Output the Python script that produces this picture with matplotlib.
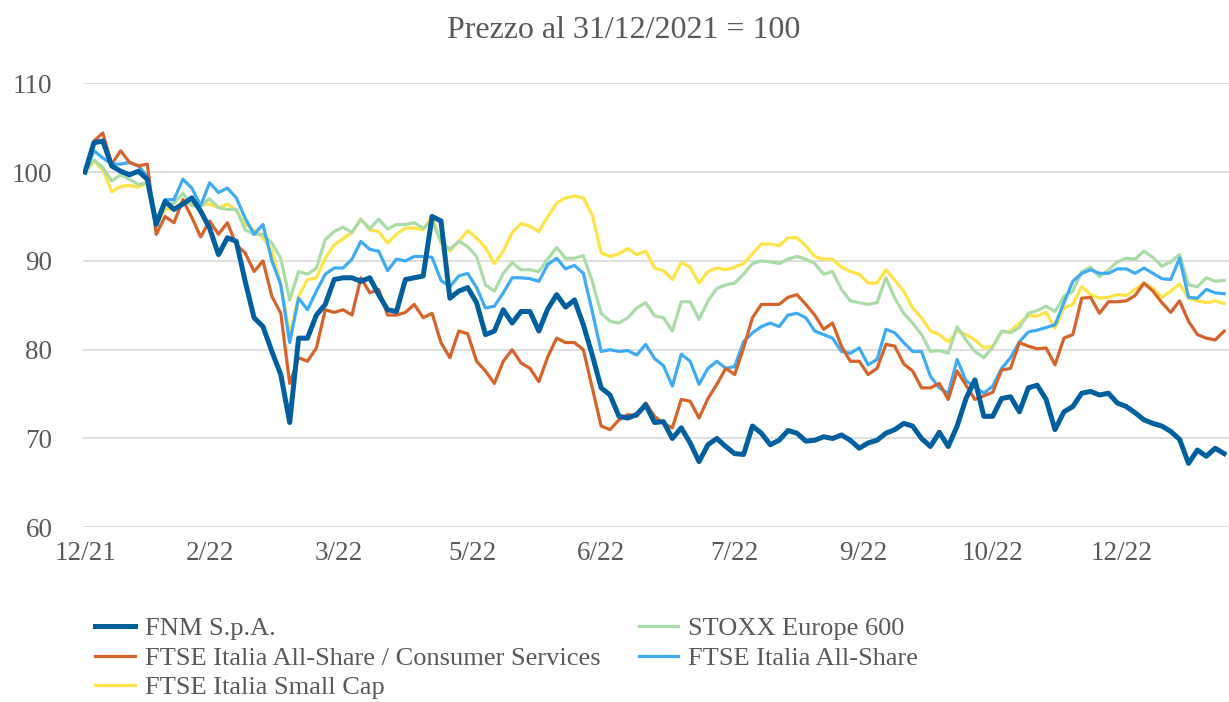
import matplotlib.pyplot as plt
import numpy as np

plt.rcParams['font.family'] = ['Liberation Serif', 'DejaVu Serif']

# index values (31/12/2021 = 100), read every 2 trading days
fnm = [100.0, 103.3, 103.5, 100.7, 100.1, 99.7, 100.1, 99.2, 94.1, 96.7, 95.8, 96.4, 97.1, 95.6, 93.7, 90.7,
       92.6, 92.2, 87.7, 83.6, 82.6, 79.8,
       77.2, 71.8, 81.3, 81.3, 83.9, 85.1, 87.9, 88.1, 88.1, 87.7, 88.1, 86.2, 84.5, 84.3, 87.9, 88.1,
       88.3, 95.0, 94.5, 85.8, 86.6, 87.0,
       85.3, 81.7, 82.1, 84.5, 83.0, 84.3, 84.3, 82.1, 84.6, 86.2, 84.8, 85.6, 82.8, 79.4, 75.7, 74.9,
       72.5, 72.3, 72.7, 73.8, 71.8,
       71.9, 70.0, 71.2, 69.5, 67.4, 69.3, 70.0, 69.1, 68.3, 68.2, 71.4, 70.6, 69.3, 69.8, 70.9, 70.6,
       69.7, 69.8, 70.2, 70.0, 70.4,
       69.8, 68.9, 69.5, 69.8, 70.6, 71.0, 71.7, 71.4, 70.0, 69.1, 70.7, 69.1, 71.4, 74.5, 76.6, 72.5,
       72.5, 74.5, 74.7, 73.0, 75.7, 76.0,
       74.4, 71.0, 73.0, 73.6, 75.1, 75.3, 74.9, 75.1, 74.0, 73.6, 72.9, 72.1, 71.7, 71.4, 70.8, 69.9,
       67.2, 68.7, 68.0, 68.9, 68.3]
consumer = [100.0, 103.5, 104.4, 100.9, 102.4, 101.1, 100.7, 100.9, 93.0, 95.0, 94.3, 96.9, 94.9, 92.7, 94.5,
            93.0, 94.3, 91.8, 90.9, 88.8, 90.0, 86.0,
            84.1, 76.2, 79.1, 78.7, 80.2, 84.5, 84.2, 84.5, 83.9, 88.1, 86.4, 86.8, 83.9, 83.9, 84.2, 85.1,
            83.6, 84.1, 80.8, 79.1, 82.1, 81.8,
            78.7, 77.6, 76.2, 78.7, 80.0, 78.5, 77.9, 76.4, 79.2, 81.3, 80.8, 80.8, 80.0, 75.7, 71.4, 71.0,
            72.1, 72.7, 72.5, 74.0, 72.5,
            71.7, 71.2, 74.4, 74.2, 72.3, 74.5, 76.1, 77.9, 77.2, 80.2, 83.6, 85.1, 85.1, 85.1, 85.9, 86.2,
            85.1, 83.9, 82.3, 83.0, 80.4,
            78.7, 78.7, 77.2, 77.9, 80.6, 80.4, 78.4, 77.6, 75.7, 75.7, 76.2, 74.4, 77.6, 76.0, 74.4, 74.8,
            75.2, 77.7, 77.9, 80.8, 80.4, 80.1,
            80.2, 78.3, 81.3, 81.7, 85.8, 85.9, 84.1, 85.4, 85.4, 85.5, 86.1, 87.5, 86.6, 85.3, 84.2, 85.5,
            83.2, 81.7, 81.3, 81.1, 82.1]
smallcap = [100.0, 101.2, 100.3, 97.8, 98.4, 98.5, 98.3, 98.8, 94.1, 95.8, 95.9, 96.7, 96.4, 96.3, 96.4,
            96.0, 96.4, 95.7, 94.1, 93.5, 92.6, 91.2,
            87.3, 81.7, 86.0, 87.9, 88.1, 90.3, 91.8, 92.5, 93.2, 94.7, 93.5, 93.3, 92.0, 93.0, 93.7, 93.7,
            93.5, 95.0, 92.0, 91.1, 92.2, 93.4,
            92.6, 91.5, 89.7, 91.1, 93.2, 94.2, 93.9, 93.3, 95.0, 96.5, 97.1, 97.3, 97.1, 95.2, 90.9, 90.5,
            90.8, 91.4, 90.7, 91.1, 89.2,
            88.9, 87.9, 89.8, 89.3, 87.5, 88.8, 89.2, 89.0, 89.3, 89.7, 90.8, 91.9, 91.9, 91.7, 92.6, 92.6,
            91.7, 90.5, 90.2, 90.2, 89.3,
            88.8, 88.5, 87.5, 87.5, 89.0, 87.8, 86.6, 84.7, 83.6, 82.1, 81.7, 80.9, 82.1, 81.7, 81.1, 80.2,
            80.4, 82.0, 82.1, 83.0, 83.8, 83.8,
            84.2, 82.4, 84.7, 85.1, 87.1, 86.2, 85.8, 85.9, 86.2, 86.1, 86.8, 87.5, 86.9, 85.9, 86.6, 87.4,
            85.8, 85.5, 85.3, 85.5, 85.2]
stoxx = [100.0, 101.4, 100.5, 99.0, 99.7, 99.2, 98.6, 98.8, 94.1, 96.4, 96.5, 97.6, 96.2, 96.2, 97.0, 96.0,
         95.8, 95.8, 93.5, 93.0, 93.0, 92.0,
         90.3, 85.6, 88.8, 88.5, 89.2, 92.4, 93.3, 93.8, 93.2, 94.7, 93.6, 94.7, 93.6, 94.1, 94.1, 94.3,
         93.7, 94.5, 92.2, 91.3, 92.2, 91.6,
         90.5, 87.3, 86.6, 88.6, 89.8, 89.0, 89.0, 88.8, 90.2, 91.5, 90.3, 90.3, 90.6, 87.7, 84.1, 83.2,
         83.0, 83.6, 84.7, 85.3, 83.8,
         83.6, 82.1, 85.4, 85.4, 83.4, 85.5, 86.9, 87.3, 87.5, 88.5, 89.7, 90.0, 89.9, 89.7, 90.2, 90.5,
         90.2, 89.7, 88.5, 88.8, 86.8,
         85.5, 85.3, 85.1, 85.3, 88.1, 85.8, 84.1, 83.0, 81.7, 79.8, 79.9, 79.6, 82.6, 81.1, 79.8, 79.1,
         80.3, 82.1, 81.9, 82.5, 84.1, 84.4,
         84.9, 84.3, 86.0, 86.6, 88.8, 89.3, 88.2, 89.0, 89.9, 90.3, 90.2, 91.1, 90.4, 89.4, 89.9, 90.7,
         87.3, 87.1, 88.1, 87.7, 87.8]
allshare = [100.0, 102.4, 101.6, 100.9, 100.9, 101.1, 100.7, 99.5, 94.5, 96.9, 96.9, 99.2, 98.2, 96.2, 98.8,
            97.7, 98.2, 97.1, 94.8, 93.0, 94.1, 90.0,
            87.3, 80.8, 85.8, 84.5, 86.6, 88.5, 89.2, 89.2, 90.2, 92.2, 91.3, 91.1, 88.9, 90.2, 90.0, 90.5,
            90.5, 90.4, 87.8, 87.1, 88.3, 88.6,
            87.0, 84.7, 84.9, 86.4, 88.1, 88.1, 88.0, 87.7, 89.6, 90.3, 89.1, 89.5, 88.6, 84.3, 79.8, 80.0,
            79.8, 79.9, 79.4, 80.6, 79.0,
            78.2, 75.9, 79.5, 78.7, 76.1, 77.9, 78.7, 77.9, 78.1, 80.9, 81.9, 82.6, 83.0, 82.6, 83.9, 84.1,
            83.6, 82.1, 81.7, 81.3, 79.8,
            79.6, 80.2, 78.3, 78.9, 82.3, 81.9, 80.8, 79.8, 79.8, 77.0, 75.7, 75.1, 78.9, 76.5, 75.8, 75.1,
            75.9, 77.9, 79.1, 80.9, 82.0, 82.2,
            82.5, 82.8, 85.3, 87.7, 88.6, 89.0, 88.6, 88.6, 89.1, 89.1, 88.6, 89.2, 88.6, 88.0, 87.9, 90.3,
            85.9, 85.8, 86.8, 86.4, 86.3]

tick_days = [0, 28, 57, 87, 116, 146, 175, 204, 233]
tick_labels = ['12/21', '2/22', '3/22', '5/22', '6/22', '7/22', '9/22', '10/22', '12/22']

day = np.arange(len(fnm)) * 2
grey = '#595959'

fig = plt.figure(figsize=(12.29, 7.02), dpi=100)
ax = fig.add_axes([83 / 1229, 1 - 527.3 / 702, 1 - 83 / 1229, 444 / 702])

l_small, = ax.plot(day, smallcap, color='#ffe347', lw=2.3)
l_stoxx, = ax.plot(day, stoxx, color='#a9dca6', lw=2.3)
l_all, = ax.plot(day, allshare, color='#3fabf4', lw=2.3)
l_cons, = ax.plot(day, consumer, color='#d6632a', lw=2.3)
l_fnm, = ax.plot(day, fnm, color='#005f9e', lw=3.6)

ax.set_xlim(-0.45, 257.1)
ax.set_ylim(60, 110)
ax.set_yticks(range(60, 111, 10))
ax.set_xticks(tick_days)
ax.set_xticklabels(tick_labels)
ax.grid(axis='y', color='#d9d9d9', lw=1.2)
ax.set_axisbelow(True)
for s in ax.spines.values():
    s.set_visible(False)
ax.tick_params(length=0, labelsize=19.5, labelcolor=grey)
ax.tick_params(axis='y', pad=22)
ax.tick_params(axis='x', pad=10)

fig.text(623.5 / 1229, 1 - 30 / 702, 'Prezzo al 31/12/2021 = 100', ha='center', va='center',
         fontsize=23, color=grey)

fig.legend([l_fnm, l_cons, l_small, l_stoxx, l_all],
           ['FNM S.p.A.', 'FTSE Italia All-Share / Consumer Services', 'FTSE Italia Small Cap',
            'STOXX Europe 600', 'FTSE Italia All-Share'],
           loc='upper left', bbox_to_anchor=(95 / 1229, 1 - 617 / 702), ncol=2, frameon=False,
           fontsize=19, labelcolor=grey, handlelength=1.5, handletextpad=0.38,
           columnspacing=1.45, labelspacing=0.22, borderpad=0, borderaxespad=0)

fig.savefig('out.png', dpi=100)
